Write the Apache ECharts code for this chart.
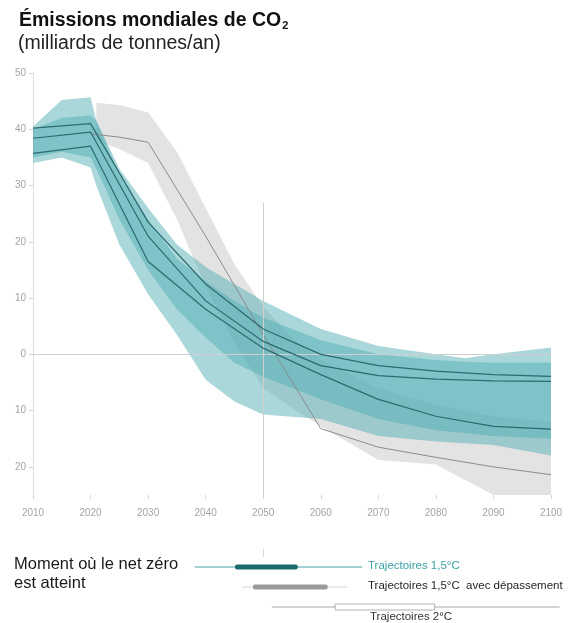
<!DOCTYPE html>
<html>
<head>
<meta charset="utf-8">
<script src="https://cdn.jsdelivr.net/npm/echarts@6/dist/echarts.min.js"></script>
<style>
  html, body { margin: 0; padding: 0; background: #ffffff; }
  #chart { width: 574px; height: 623px; }
</style>
</head>
<body>
<div id="chart"></div>
<script>
// ---- Axis ticks ----
const xTickYears = [2010, 2020, 2030, 2040, 2050, 2060, 2070, 2080, 2090, 2100];
const yTickValues = [-20, -10, 0, 10, 20, 30, 40, 50];
const yTickLabels = ['20', '10', '0', '10', '20', '30', '40', '50'];

// ---- 1.5°C envelopes (Gt CO2 / an) ----
const bandYears  = [2010, 2015, 2020, 2021, 2025, 2030, 2035, 2040, 2045, 2050, 2060, 2070, 2080, 2085, 2090, 2100];
const outerUpper = [40.5, 45.2, 45.7, 41.5, 33.0, 26.0, 19.5, 15.5, 12.5, 9.5, 4.5, 1.5, 0.0, -0.7, 0.0, 1.2];
const outerLower = [34.0, 35.0, 33.2, 30.0, 19.5, 10.7, 3.5, -4.5, -8.4, -10.7, -11.5, -14.5, -15.5, -15.8, -16.1, -18.0];
const innerUpper = [40.0, 42.0, 42.5, 41.5, 32.0, 24.0, 17.0, 13.0, 9.5, 6.5, 2.5, 0.0, -1.0, -1.3, -1.5, -1.5];
const innerLower = [35.0, 36.0, 35.0, 33.0, 24.0, 15.0, 8.0, 3.0, -1.5, -4.0, -8.0, -11.5, -13.5, -14.0, -14.5, -15.0];

// ---- 2°C envelope ----
const grayYears = [2021, 2025, 2030, 2035, 2040, 2045, 2050, 2055, 2060, 2070, 2080, 2090, 2100];
const grayUpper = [44.7, 44.3, 43.0, 36.0, 26.0, 16.0, 8.5, 3.0, -1.0, -6.0, -9.0, -11.0, -12.0];
const grayLower = [38.0, 36.5, 34.0, 24.0, 12.0, 2.0, -6.0, -9.5, -12.8, -18.8, -19.6, -25.0, -25.0];

// ---- Median trajectories ----
const lineYears = [2010, 2020, 2030, 2040, 2050, 2060, 2070, 2080, 2090, 2100];
const pathA = [40.2, 41.0, 23.5, 12.5, 4.5, 0.0, -2.0, -3.0, -3.6, -3.9];
const pathB = [38.4, 39.5, 21.0, 9.5, 2.3, -2.0, -3.8, -4.4, -4.7, -4.8];
const pathC = [35.7, 37.0, 16.5, 8.0, 1.1, -3.6, -8.0, -11.0, -12.8, -13.3];
const grayLineYears = [2020, 2025, 2030, 2040, 2050, 2060, 2070, 2080, 2090, 2100];
const grayPath = [39.2, 38.6, 37.7, 21.0, 3.5, -13.2, -16.5, -18.3, -20.0, -21.4];

// ---- Net-zero timing ----
const netZeroNames = ['Trajectoires 1,5°C', 'Trajectoires 1,5°C  avec dépassement', 'Trajectoires 2°C'];
const netZeroRange = [[2038.1, 2067.2], [2046.3, 2064.6], [2051.5, 2101.5]];
const netZeroCore  = [[2045.1, 2056.0], [2048.2, 2061.2], [2062.5, 2079.8]];

const FONT = '"Liberation Sans", Arial, Helvetica, sans-serif';
const TEAL = 'rgb(84,176,182)';
const TEAL_LINE = '#2c6a6e';

const pairs = (xs, ys) => xs.map((x, i) => [x, ys[i]]);

// Filled envelope between two curves, drawn through the axis scales
function envelope(years, lower, upper, fill, opacity, z) {
  return {
    type: 'custom',
    xAxisIndex: 0, yAxisIndex: 0,
    clip: true, silent: true, z: z,
    data: [[years[0], upper[0]]],
    renderItem: function (params, api) {
      const pts = years.map((yr, i) => api.coord([yr, upper[i]]));
      for (let i = years.length - 1; i >= 0; i--) pts.push(api.coord([years[i], lower[i]]));
      return { type: 'polygon', shape: { points: pts }, style: { fill: fill, opacity: opacity } };
    }
  };
}

function path(years, values, color, width, z) {
  return {
    type: 'line', xAxisIndex: 0, yAxisIndex: 0,
    data: pairs(years, values),
    symbol: 'none', showSymbol: false, silent: true, z: z,
    lineStyle: { color: color, width: width }
  };
}

const rowStyles = [
  { thin: 'rgb(70,160,165)', fill: '#1e6b6c', stroke: null, h: 5 },
  { thin: '#d6d6d6', fill: '#9a9a9a', stroke: null, h: 5 },
  { thin: '#a8a8a8', fill: '#ffffff', stroke: '#b0b0b0', h: 6 }
];

const chart = echarts.init(document.getElementById('chart'), null, { renderer: 'canvas' });

chart.setOption({
  animation: false,
  backgroundColor: '#ffffff',
  textStyle: { fontFamily: FONT },
  grid: [
    { left: 33, right: 23, top: 73, bottom: 128 },
    { left: 33, right: 23, top: 547, height: 70 }
  ],
  xAxis: [
    {
      type: 'value', gridIndex: 0, min: 2010, max: 2100, interval: 10,
      axisLine: { show: false, onZero: false },
      axisTick: { show: true, length: 4, lineStyle: { color: '#d4d4d4' } },
      axisLabel: { color: '#a4a4a4', fontSize: 10, margin: 13, fontFamily: FONT,
                   formatter: v => String(v) },
      splitLine: { show: false }
    },
    { type: 'value', gridIndex: 1, min: 2010, max: 2100, show: false }
  ],
  yAxis: [
    {
      type: 'value', gridIndex: 0, min: -25, max: 50,
      axisLine: { show: true, onZero: false, lineStyle: { color: '#dedede' } },
      axisTick: { show: true, length: 4, lineStyle: { color: '#d0d0d0' }, customValues: yTickValues },
      axisLabel: { color: '#a4a4a4', fontSize: 10, margin: 7, fontFamily: FONT,
                   customValues: yTickValues,
                   formatter: v => yTickLabels[yTickValues.indexOf(v)] },
      splitLine: { show: false }
    },
    { type: 'value', gridIndex: 1, min: -1, max: 2.5, inverse: true, show: false }
  ],
  series: [
    // reference lines: zero and 2050
    {
      type: 'line', xAxisIndex: 0, yAxisIndex: 0, data: [], z: 1, silent: true,
      markLine: {
        silent: true, symbol: ['none', 'none'], label: { show: false },
        lineStyle: { color: '#cfcfcf', width: 1, type: 'solid' },
        data: [
          { yAxis: 0 },
          [{ coord: [2050, 27] }, { coord: [2050, -25] }]
        ]
      }
    },
    envelope(grayYears, grayLower, grayUpper, '#e3e3e3', 1, 2),
    envelope(bandYears, outerLower, outerUpper, TEAL, 0.5, 3),
    envelope(bandYears, innerLower, innerUpper, TEAL, 0.5, 3),
    path(grayLineYears, grayPath, '#8c8c8c', 1, 4),
    path(lineYears, pathA, TEAL_LINE, 1.2, 5),
    path(lineYears, pathB, TEAL_LINE, 1.2, 5),
    path(lineYears, pathC, TEAL_LINE, 1.2, 5),
    // net-zero timing rows
    {
      type: 'custom', xAxisIndex: 1, yAxisIndex: 1, clip: false, silent: true, z: 5,
      data: netZeroRange.map((r, i) => [i, r[0], r[1], netZeroCore[i][0], netZeroCore[i][1]]),
      encode: { x: [1, 2, 3, 4], y: 0 },
      renderItem: function (params, api) {
        const row = api.value(0);
        const a = api.coord([api.value(1), row]);
        const b = api.coord([api.value(2), row]);
        const c = api.coord([api.value(3), row]);
        const d = api.coord([api.value(4), row]);
        const st = rowStyles[params.dataIndex];
        return {
          type: 'group',
          children: [
            { type: 'line', shape: { x1: a[0], y1: a[1], x2: b[0], y2: b[1] },
              style: { stroke: st.thin, lineWidth: 1 } },
            { type: 'rect', shape: { x: c[0], y: c[1] - st.h / 2, width: d[0] - c[0], height: st.h, r: st.stroke ? 0 : 2 },
              style: { fill: st.fill, stroke: st.stroke || 'none', lineWidth: st.stroke ? 1 : 0 } }
          ]
        };
      }
    },
    {
      type: 'line', xAxisIndex: 1, yAxisIndex: 1, data: [], silent: true,
      markLine: {
        silent: true, symbol: ['none', 'none'], label: { show: false },
        lineStyle: { color: '#d8d8d8', width: 1, type: 'solid' },
        data: [[{ coord: [2050, -0.9] }, { coord: [2050, -0.5] }]]
      }
    }
  ],
  graphic: [
    {
      type: 'text', left: 19, top: 11,
      style: {
        text: 'Émissions mondiales de CO{sub|2}',
        font: 'bold 19.5px ' + FONT, fill: '#111',
        rich: { sub: { fontSize: 11, fontWeight: 'bold', fontFamily: FONT, fill: '#111', padding: [9, 0, 0, 1] } }
      }
    },
    {
      type: 'text', left: 18, top: 34,
      style: { text: '(milliards de tonnes/an)', font: '19.5px ' + FONT, fill: '#222' }
    },
    {
      type: 'text', left: 14, top: 555,
      style: { text: 'Moment où le net zéro\nest atteint', font: '16.5px ' + FONT, fill: '#1a1a1a', lineHeight: 19 }
    },
    {
      type: 'text', left: 368, top: 560,
      style: { text: netZeroNames[0], font: '11.5px ' + FONT, fill: 'rgb(58,160,166)' }
    },
    {
      type: 'text', left: 368, top: 580,
      style: { text: netZeroNames[1], font: '11.5px ' + FONT, fill: '#1f1f1f' }
    },
    {
      type: 'text', left: 370, top: 611,
      style: { text: netZeroNames[2], font: '11.5px ' + FONT, fill: '#333' }
    }
  ]
});
</script>
</body>
</html>
